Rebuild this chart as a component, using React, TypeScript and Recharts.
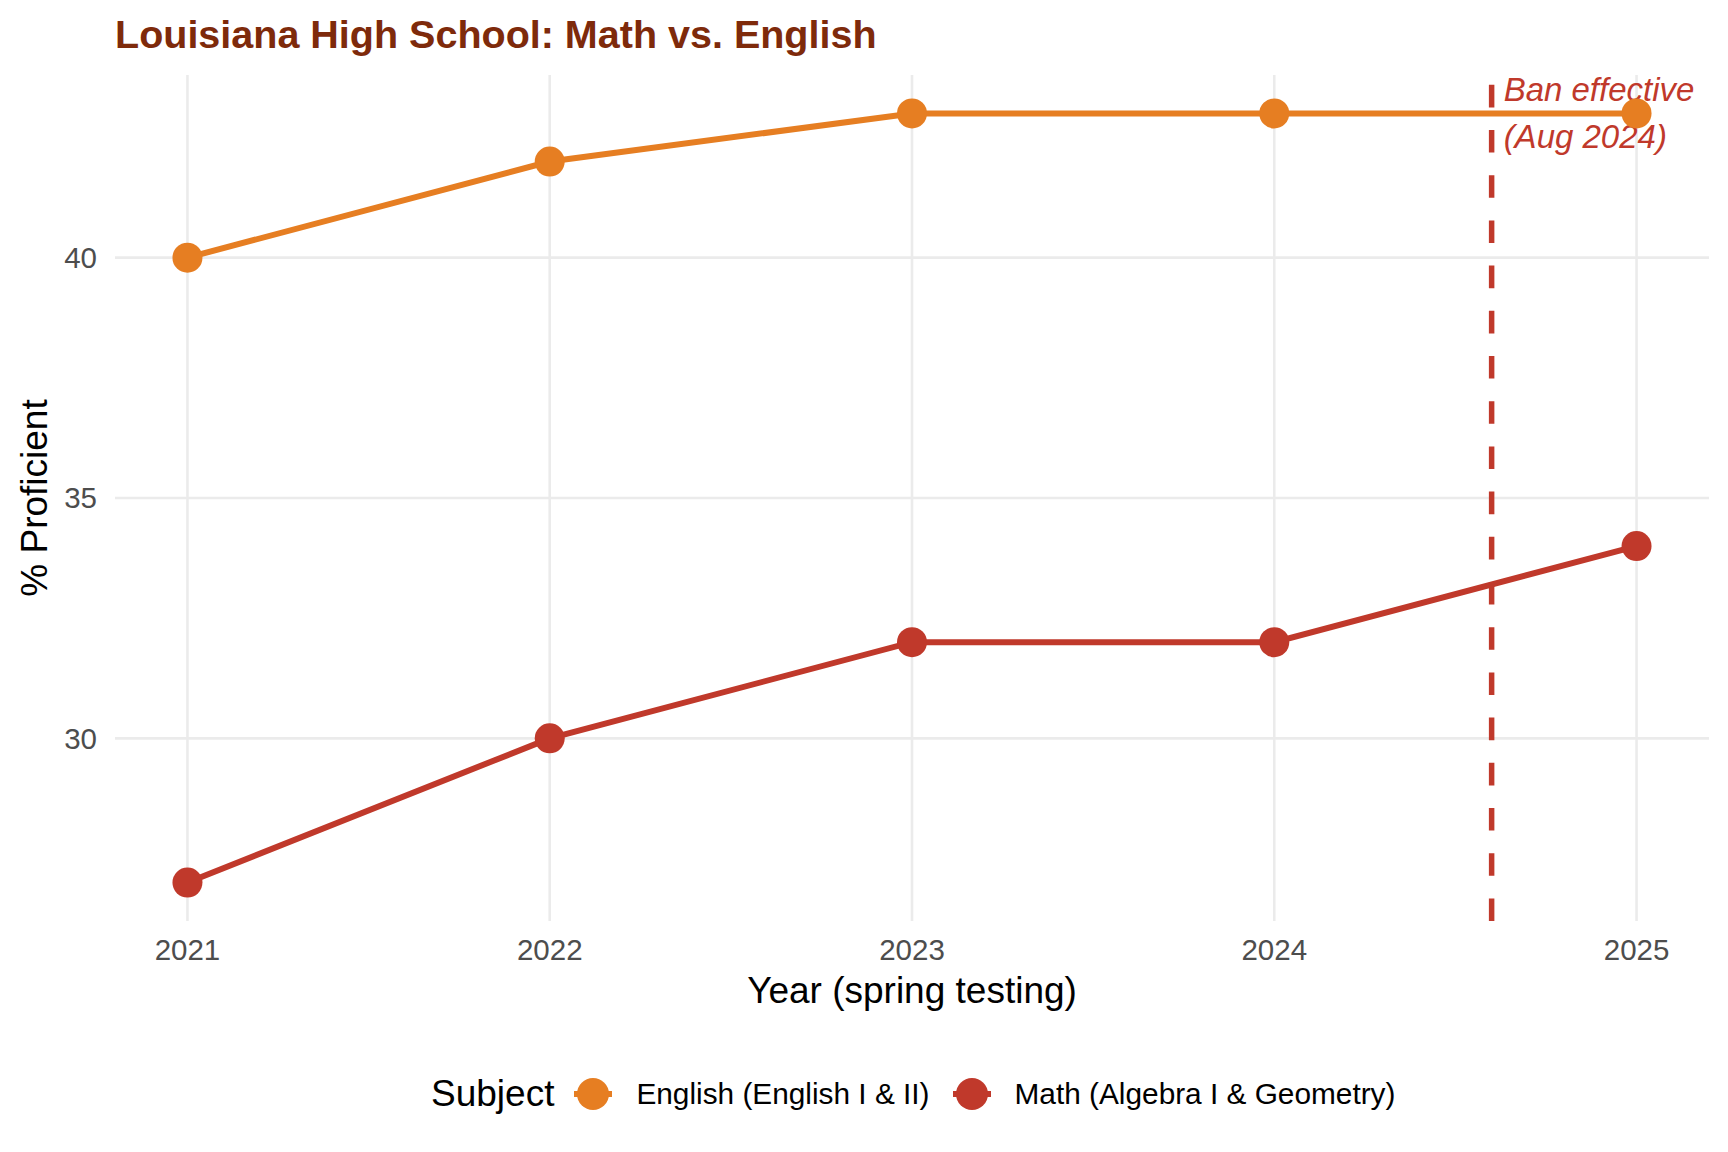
import React from 'react';
import { CartesianGrid, Line, LineChart, ReferenceLine, XAxis, YAxis } from 'recharts';

const years = [2021, 2022, 2023, 2024, 2025];
const englishValues = [40, 42, 43, 43, 43];
const mathValues = [27, 30, 32, 32, 34];
const yTicks = [30, 35, 40];
const banYear = 2024.6;
const banLabel = ['Ban effective', '(Aug 2024)'];

const series = [
  { key: 'english', name: 'English (English I & II)', color: '#E67E22' },
  { key: 'math', name: 'Math (Algebra I & Geometry)', color: '#C0392B' }
];

const data = years.map((year, i) => ({ year, english: englishValues[i], math: mathValues[i] }));

const FONT = '"Liberation Sans", Arial, Helvetica, sans-serif';

function XTitle(props: any) {
  const vb = props.viewBox ?? { x: 0, y: 921, width: 1709, height: 231 };
  return (
    <text x={vb.x + vb.width / 2} y={vb.y + 82} textAnchor="middle" fontSize={37} fill="#000" fontFamily={FONT}>
      Year (spring testing)
    </text>
  );
}

function YTitle(props: any) {
  const vb = props.viewBox ?? { x: 0, y: 75, width: 115, height: 846 };
  const cx = vb.x + 47;
  const cy = vb.y + vb.height / 2;
  return (
    <text transform={`translate(${cx},${cy}) rotate(-90)`} textAnchor="middle" fontSize={37} fill="#000" fontFamily={FONT}>
      % Proficient
    </text>
  );
}

function BanLabel(props: any) {
  const vb = props.viewBox ?? { x: 1492, y: 75 };
  return (
    <text fontSize={33} fontStyle="italic" fill="#C0392B" fontFamily={FONT}>
      {banLabel.map((line, i) => (
        <tspan key={line} x={vb.x + 12} y={vb.y + 26 + i * 47}>
          {line}
        </tspan>
      ))}
    </text>
  );
}

function LegendKey({ color }: { color: string }) {
  return (
    <svg width={38} height={34} style={{ display: 'block' }}>
      <line x1={0} y1={17} x2={38} y2={17} stroke={color} strokeWidth={6} />
      <circle cx={19} cy={17} r={16} fill={color} />
    </svg>
  );
}

export default function App() {
  return (
    <div style={{ position: 'relative', width: 1728, height: 1152, background: '#fff', fontFamily: FONT }}>
      <style>{'body{margin:0}'}</style>
      <div
        style={{
          position: 'absolute',
          left: 115,
          top: 14,
          fontSize: 39.5,
          lineHeight: '40px',
          fontWeight: 700,
          color: '#7E2A0B',
          whiteSpace: 'nowrap'
        }}
      >
        Louisiana High School: Math vs. English
      </div>
      <LineChart width={1728} height={1152} data={data} margin={{ top: 75, right: 19, bottom: 0, left: 0 }}>
        <CartesianGrid stroke="#EBEBEB" strokeWidth={2.6} syncWithTicks />
        <XAxis
          dataKey="year"
          type="number"
          domain={[2020.8, 2025.2]}
          ticks={years}
          interval={0}
          allowDataOverflow
          axisLine={false}
          tickLine={false}
          tickSize={0}
          tickMargin={18}
          height={231}
          tick={{ fontSize: 29.5, fill: '#4D4D4D', fontFamily: FONT }}
          label={{ content: XTitle }}
        />
        <YAxis
          type="number"
          domain={[26.2, 43.8]}
          ticks={yTicks}
          interval={0}
          allowDataOverflow
          axisLine={false}
          tickLine={false}
          tickSize={0}
          tickMargin={18}
          width={115}
          tick={{ fontSize: 29.5, fill: '#4D4D4D', fontFamily: FONT }}
          label={{ content: YTitle }}
        />
        <ReferenceLine
          x={banYear}
          stroke="#C0392B"
          strokeWidth={5.5}
          strokeDasharray="22.6 22.6"
          label={{ content: BanLabel }}
        />
        {series.map((s) => (
          <Line
            key={s.key}
            type="linear"
            dataKey={s.key}
            name={s.name}
            stroke={s.color}
            strokeWidth={6}
            dot={{ r: 15, fill: s.color, stroke: s.color, strokeWidth: 0 }}
            activeDot={false}
            isAnimationActive={false}
          />
        ))}
      </LineChart>
      <div
        style={{
          position: 'absolute',
          left: 431,
          top: 1094,
          transform: 'translateY(-50%)',
          display: 'flex',
          alignItems: 'center',
          whiteSpace: 'nowrap',
          color: '#000'
        }}
      >
        <span style={{ fontSize: 37 }}>Subject</span>
        {series.map((s, i) => (
          <React.Fragment key={s.key}>
            <span style={{ marginLeft: i === 0 ? 20 : 23 }}>
              <LegendKey color={s.color} />
            </span>
            <span style={{ fontSize: 29.8, marginLeft: 24 }}>{s.name}</span>
          </React.Fragment>
        ))}
      </div>
    </div>
  );
}
